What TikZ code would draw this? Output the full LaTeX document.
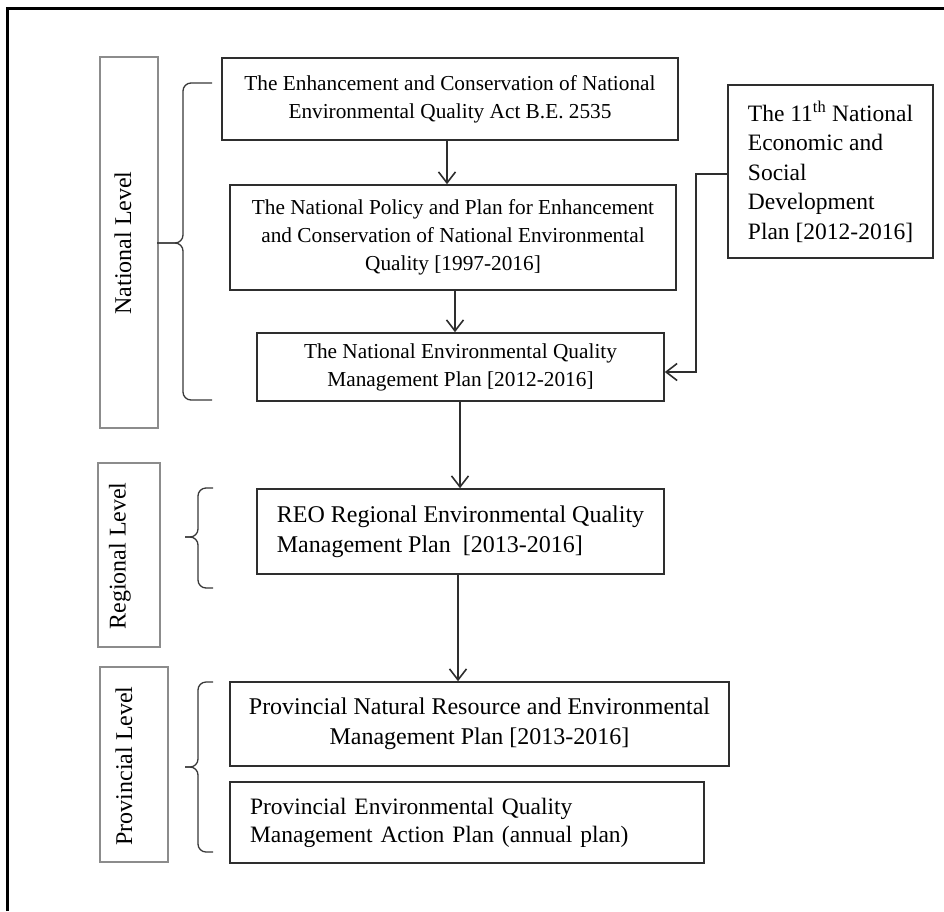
\documentclass[tikz,border=0pt]{standalone}
\usepackage{fontspec}
\setmainfont{Liberation Serif}
\usetikzlibrary{arrows.meta}
\begin{document}
\begin{tikzpicture}[x=1pt,y=-1pt,
  box/.style={draw=black!82,line width=1.6pt,fill=white,inner sep=0pt},
  lvlbox/.style={draw=black!45,line width=1.2pt,inner sep=0pt},
  lvltxt/.style={rotate=90,font=\fontsize{24}{26}\selectfont,inner sep=0pt},
  smalltxt/.style={font=\fontsize{21.3}{28}\selectfont},
  bigtxt/.style={font=\fontsize{24}{30}\selectfont},
  brace/.style={draw=black!78,line width=1.3pt,rounded corners=8pt},
  arr/.style={draw=black!82,line width=1.6pt,-{Straight Barb[length=11pt,width=17pt,line width=1.6pt]}}]
\useasboundingbox (0,0) rectangle (944,911);
% outer frame (top and left edges)
\draw[line width=3pt] (7,911) -- (7,8) -- (944,8);

% level boxes
\node[lvlbox,minimum width=58pt,minimum height=371pt] (nlbox) at (129,242.5) {};
\node[lvltxt] (nltxt) at (123,243) {National Level};
\node[lvlbox,minimum width=62pt,minimum height=184pt] (rlbox) at (129,555) {};
\node[lvltxt] (rltxt) at (120,556) {Regional Level};
\node[lvlbox,minimum width=68pt,minimum height=195pt] (plbox) at (134,764.5) {};
\node[lvltxt] (pltxt) at (124,766) {Provincial Level};

% braces
\draw[brace] (212,83) -- (183,83) -- (183,243) -- (157,243);
\draw[brace] (157,243) -- (183,243) -- (183,400) -- (212,400);
\draw[brace] (213,488) -- (198,488) -- (198,537) -- (185,537);
\draw[brace] (185,537) -- (198,537) -- (198,588) -- (213,588);
\draw[brace] (213,682) -- (198,682) -- (198,767) -- (185,767);
\draw[brace] (185,767) -- (198,767) -- (198,852) -- (213,852);

% main boxes
\node[box,smalltxt,align=center,minimum width=456pt,minimum height=82pt] (b1) at (450,99)
  {The Enhancement and Conservation of National\\Environmental Quality Act B.E. 2535};
\node[box,smalltxt,align=center,minimum width=446pt,minimum height=105pt] (b2) at (453,237.5)
  {The National Policy and Plan for Enhancement\\and Conservation of National Environmental\\Quality [1997-2016]};
\node[box,smalltxt,align=center,minimum width=407pt,minimum height=68pt] (b3) at (460.5,367)
  {The National Environmental Quality\\Management Plan [2012-2016]};
\node[box,font=\fontsize{23.5}{29.5}\selectfont,align=left,minimum width=205pt,minimum height=173pt] (el) at (830.5,171.5)
  {The 11\textsuperscript{th} National\\Economic and\\Social\\Development\\Plan [2012-2016]};
\node[box,bigtxt,align=left,minimum width=407pt,minimum height=85pt] (reo) at (460.5,531.5)
  {REO Regional Environmental Quality\\Management Plan\ \ [2013-2016]};
\node[box,bigtxt,align=center,minimum width=499pt,minimum height=84pt] (p1) at (479.5,724)
  {Provincial Natural Resource and Environmental\\Management Plan [2013-2016]};
\node[box,font=\fontsize{23.5}{28}\selectfont,text width=434pt,align=left,minimum width=474pt,minimum height=81pt] (p2) at (467,822.5)
  {Provincial Environmental Quality\\Management Action Plan (annual plan)};

% connectors
\draw[arr] ([xshift=-3pt]b1.south) -- ([xshift=-3pt]b1.south |- b2.north);
\draw[arr] ([xshift=2pt]b2.south) -- ([xshift=2pt]b2.south |- b3.north);
\draw[arr] ([xshift=-0.5pt]b3.south) -- ([xshift=-0.5pt]b3.south |- reo.north);
\draw[arr] ([xshift=-2.5pt]reo.south) -- ([xshift=-2.5pt]reo.south |- p1.north);
\draw[arr] ([yshift=-2.5pt]el.west) -- ++(-31,0) |- ([yshift=-5pt]b3.east);
\end{tikzpicture}
\end{document}
